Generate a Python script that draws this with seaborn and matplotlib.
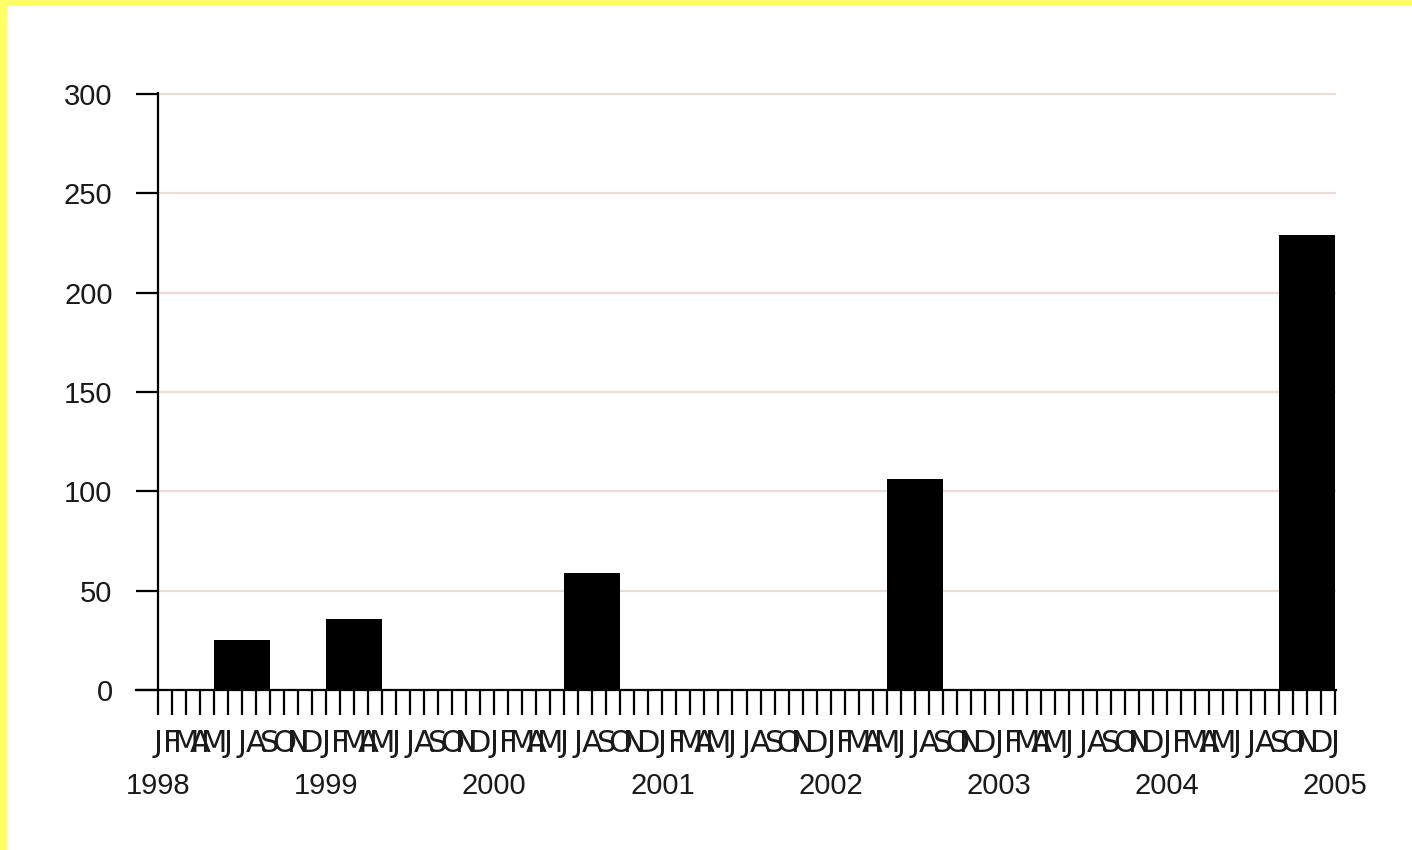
import numpy as np
import pandas as pd
import matplotlib.pyplot as plt
import seaborn as sns
from matplotlib import font_manager
from matplotlib.patches import Rectangle

# four-month periods (first month of each period) and their counts
period_start = ["1998-05", "1999-01", "2000-06", "2002-05", "2004-09"]
period_months = 4
counts = [25, 36, 59, 106, 229]

month_letters = list("JFMAMJJASOND")
years = list(range(1998, 2006))
y_ticks = [0, 50, 100, 150, 200, 250, 300]

sns.set_style("white")
names = {f.name for f in font_manager.fontManager.ttflist}
narrow = "Liberation Sans Narrow" if "Liberation Sans Narrow" in names else "DejaVu Sans"
plain = "Liberation Sans" if "Liberation Sans" in names else "DejaVu Sans"
plt.rcParams["font.family"] = [plain, "DejaVu Sans"]

first = pd.Period("1998-01", freq="M")
starts = np.array([(pd.Period(s, freq="M") - first).n for s in period_start])
centers = starts + period_months / 2
df = pd.DataFrame({"month": centers, "count": counts})

W, H = 1412, 850
fig = plt.figure(figsize=(W / 100, H / 100), dpi=100, facecolor="#ffff66")
fig.add_artist(Rectangle((7 / W, 0), 1, 1 - 6 / H, transform=fig.transFigure,
                         facecolor="white", edgecolor="none", zorder=-1))
ax = fig.add_axes([136 / W, 160 / H, (1336 - 136) / W, 597 / H])

sns.barplot(data=df, x="month", y="count", native_scale=True,
            width=period_months / np.diff(centers).min(),
            color="black", saturation=1, linewidth=0, errorbar=None, ax=ax)

ax.set_xlim(-1.55, 84.05)
ax.set_ylim(0, 300.6)
ax.set_xlabel("")
ax.set_ylabel("")
for side in ["top", "right"]:
    ax.spines[side].set_visible(False)
ax.spines["left"].set_position(("data", 0))
for side in ["left", "bottom"]:
    ax.spines[side].set_linewidth(1.6)
    ax.spines[side].set_color("black")

ax.set_yticks(y_ticks)
ax.set_yticklabels([str(v) for v in y_ticks], fontsize=21, color="#1a1a1a")
ax.set_xticks(range(85))
ax.set_xticklabels([month_letters[i % 12] for i in range(85)],
                   fontsize=22, family=narrow, color="#1a1a1a")
ax.tick_params(axis="x", bottom=True, length=18, width=1.6, pad=10,
               direction="out", color="black")
ax.tick_params(axis="y", left=True, length=15.5, width=1.6, pad=17,
               direction="out", color="black")

ax.yaxis.grid(True, color="#ecdcd4", linewidth=1.6)
ax.xaxis.grid(False)
ax.set_axisbelow(True)

for i, yr in enumerate(years):
    ax.text(i * 12, -96 / 597, str(yr), transform=ax.get_xaxis_transform(),
            ha="center", va="center", fontsize=21, color="#1a1a1a")

fig.savefig("out.png", dpi=100, facecolor=fig.get_facecolor())
